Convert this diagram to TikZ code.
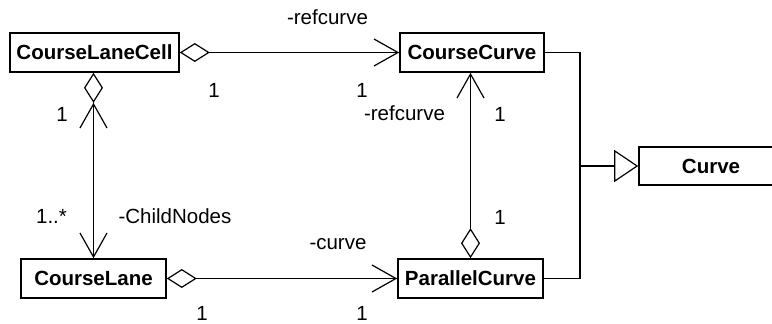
\documentclass[tikz,border=0pt]{standalone}
\usepackage{fontspec}
\setmainfont{Liberation Sans}
\usetikzlibrary{arrows.meta}
\tikzset{
  cls/.style={draw, line width=1.6pt, inner sep=0pt, minimum height=39pt, font=\fontsize{20.5}{24}\selectfont\bfseries},
  lbl/.style={anchor=base, inner sep=0pt, font=\fontsize{20.5}{24}\selectfont},
  conn/.style={line width=1.2pt},
  dia/.tip={Diamond[open, length=30pt, width=19pt]},
  barb/.tip={Straight Barb[length=24pt, width=27pt]},
  tri/.tip={Triangle[open, length=24pt, width=32pt]}
}
\begin{document}
\begin{tikzpicture}[x=1pt, y=-1pt]
\useasboundingbox (0,0) rectangle (772,324);
\node[cls, minimum width=169pt] (CLC) at (94.5,52.5) {CourseLaneCell};
\node[cls, minimum width=144pt] (CC) at (472,52.5) {CourseCurve};
\node[cls, minimum width=145pt] (CL) at (93.5,278.5) {CourseLane};
\node[cls, minimum width=145pt] (PC) at (470.5,278.5) {ParallelCurve};
\node[cls, minimum width=144pt, minimum height=38pt] (CV) at (711,166) {Curve};
\coordinate (jn) at (580,166);

\draw[conn, {dia[]}-{barb[]}] (CLC.east) -- (CC.west);
\draw[conn, {dia[]}-{barb[]}] (CL.east) -- (PC.west);
\draw[conn, {barb[]}-{barb[]dia[]}] (CL.north) -- (CL.north |- CLC.south);
\draw[conn, {dia[]}-{barb[]}] (PC.north) -- (PC.north |- CC.south);
\draw[conn] (CC.east) -| (jn);
\draw[conn] (PC.east) -| (jn);
\draw[conn, -{tri[]}] (jn) -- (CV.west);

\node[lbl] (l1) at (327.5,24) {-refcurve};
\node[lbl] (l2) at (214,97) {1};
\node[lbl] (l3) at (362,97) {1};
\node[lbl] (l4) at (404.5,120) {-refcurve};
\node[lbl] (l5) at (500,121) {1};
\node[lbl] (l6) at (62,121) {1};
\node[lbl] (l7) at (51.5,223) {1..*};
\node[lbl] (l8) at (175,223) {-ChildNodes};
\node[lbl] (l9) at (500,224) {1};
\node[lbl] (l10) at (338,249) {-curve};
\node[lbl] (l11) at (202,320.5) {1};
\node[lbl] (l12) at (362,320.5) {1};
\end{tikzpicture}
\end{document}
